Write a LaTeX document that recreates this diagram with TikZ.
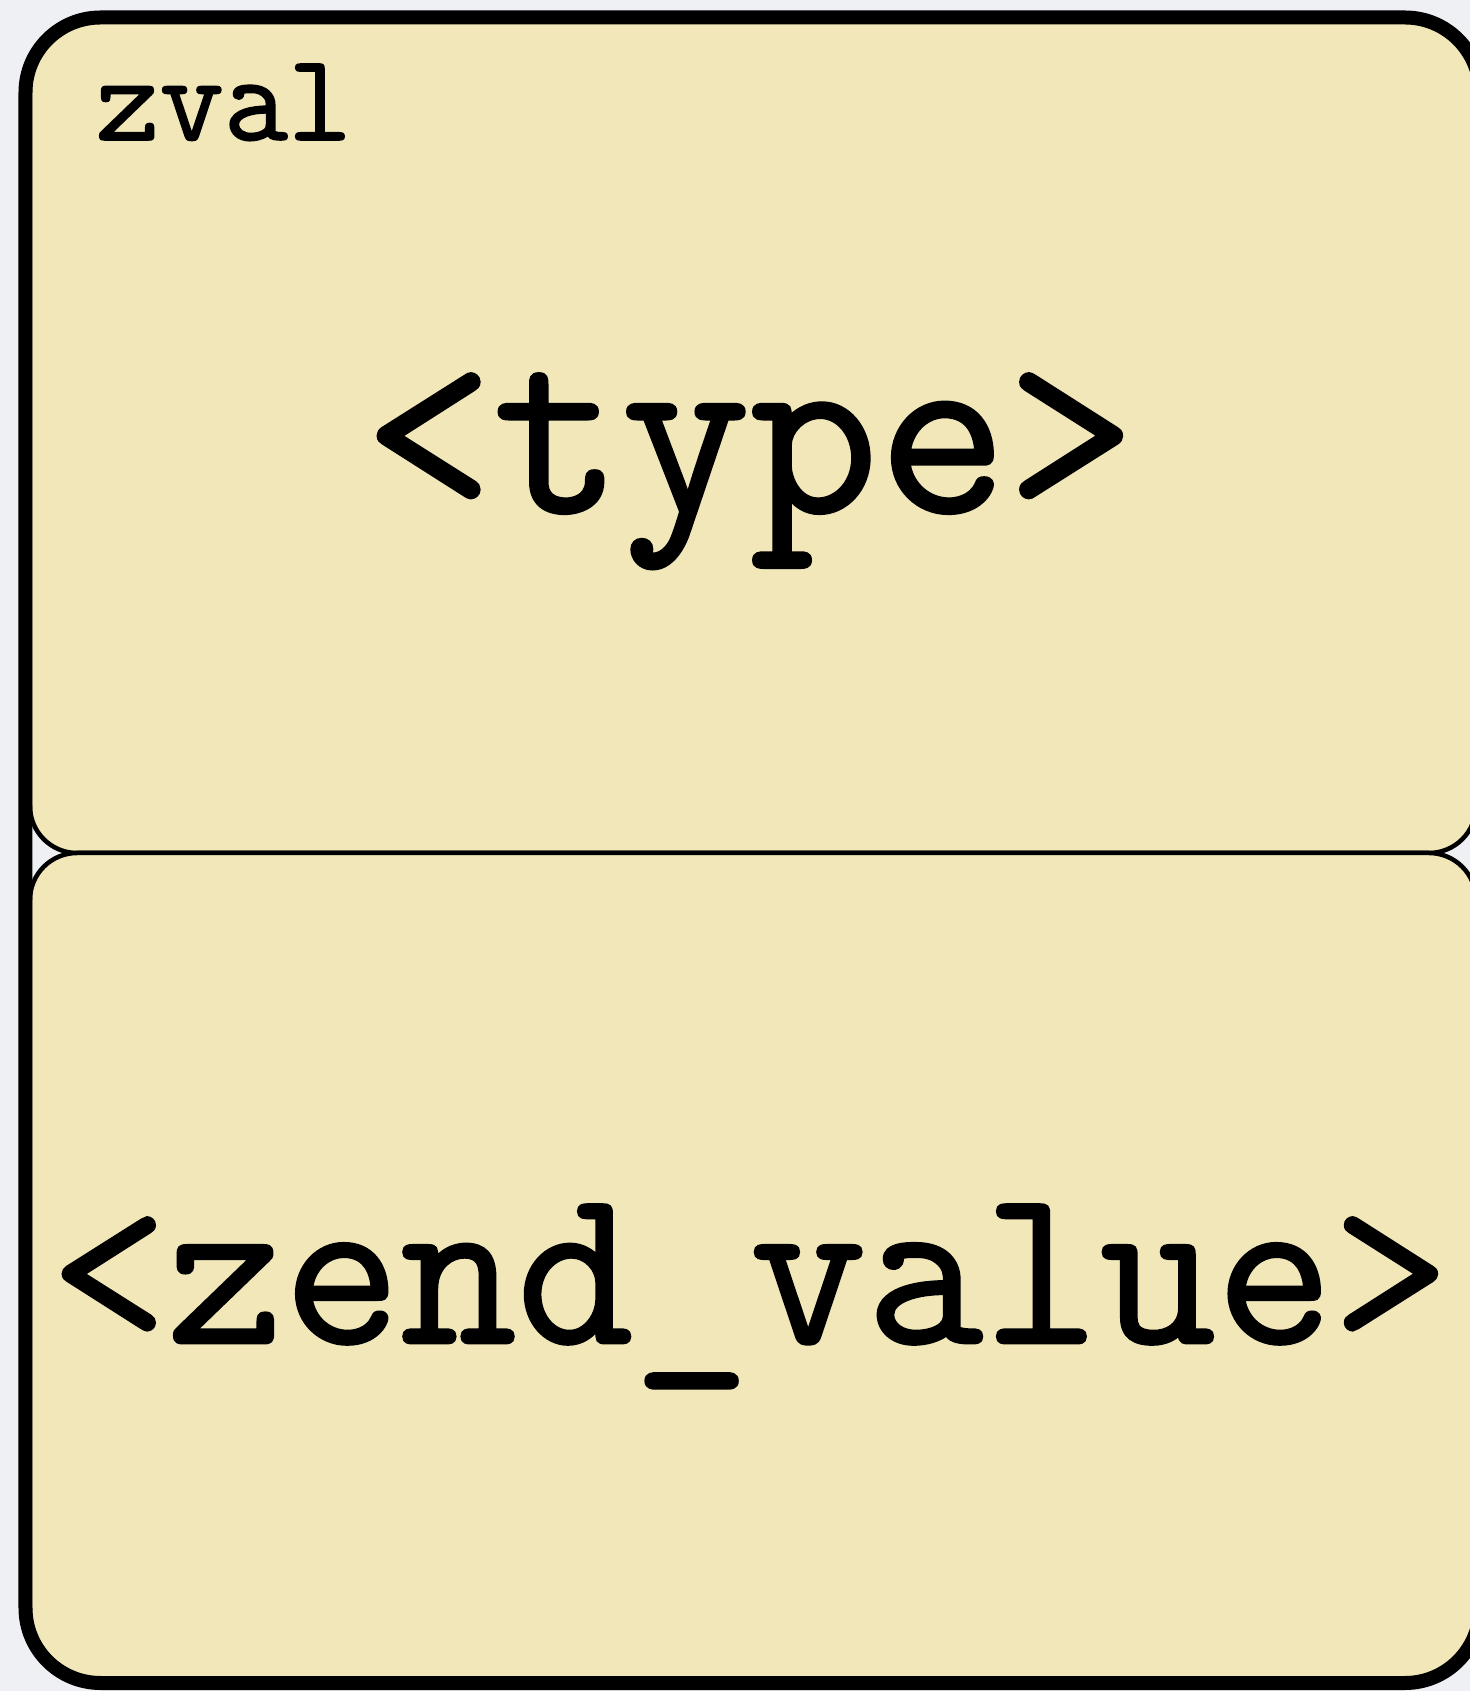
\documentclass[tikz,border=0pt]{standalone}
\usepackage{fontspec}
\newfontfamily\zvalmono[FakeBold=1.3]{Latin Modern Mono}

\begin{document}
\begin{tikzpicture}[
    zval_box/.style={shape=rectangle,draw,fill=zval_bgbox,rounded corners=0.47cm,line width=0.045cm,minimum width=14.46cm},
    zval_text/.style={anchor=base,inner sep=0pt,font=\zvalmono}]
    \definecolor{zval_bgbox}{RGB}{241,231,184}
    \definecolor{zval_page}{RGB}{238,240,244}

    \useasboundingbox (0,0) rectangle (14.70,16.91);
    \clip (0,0) rectangle (14.70,16.91);
    \fill[zval_page] (0,0) rectangle (14.70,16.91);

    % the two cells, cut to the frame
    \begin{scope}
    \clip[rounded corners=0.75cm] (0.255,0.08) rectangle (14.80,16.735);
    \node[zval_box,minimum height=8.36cm] (typecell) at (7.53,12.56) {};
    \node[zval_box,minimum height=8.30cm] (valuecell) at (7.53,4.23) {};
    \end{scope}

    % outer frame
    \node[shape=rectangle,draw,rounded corners=0.75cm,line width=0.14cm,minimum width=14.545cm,minimum height=16.655cm] (frame) at (7.5275,8.4075) {};

    \node[zval_text,anchor=base west,font=\zvalmono\fontsize{35.4pt}{37pt}\selectfont] (title) at (0.95,15.51) {zval};
    \node[zval_text,font=\zvalmono\fontsize{71pt}{73pt}\selectfont] (type) at (7.50,11.79) {<type>};
    \node[zval_text,font=\zvalmono\fontsize{64.4pt}{66pt}\selectfont] (value) at (7.50,3.48) {<zend\_value>};

\end{tikzpicture}
\end{document}
